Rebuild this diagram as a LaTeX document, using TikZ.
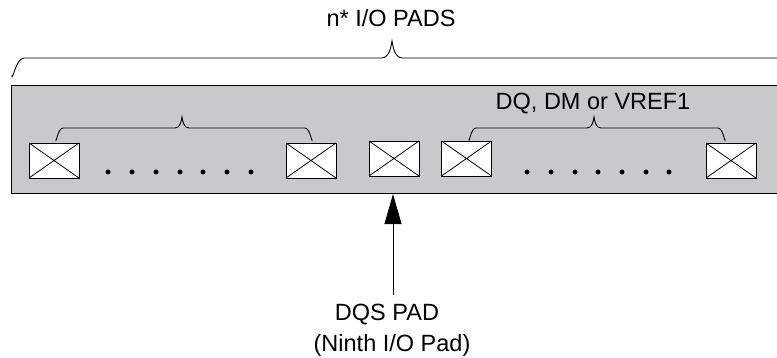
\documentclass[tikz,border=0pt]{standalone}
\usepackage{fontspec}
\setmainfont{Liberation Sans}
\usetikzlibrary{arrows.meta}
\definecolor{chipgray}{RGB}{200,201,203}
\begin{document}
\begin{tikzpicture}[x=1pt,y=-1pt,
  padbox/.style={draw=black, fill=white, line width=0.9pt, minimum width=50pt, minimum height=35pt, inner sep=0pt,
    path picture={\draw[line width=0.8pt] (path picture bounding box.south west) -- (path picture bounding box.north east)
      (path picture bounding box.north west) -- (path picture bounding box.south east);}},
  lbl/.style={font=\fontsize{23.5}{26}\selectfont, inner sep=0pt, anchor=base},
  brace/.style={draw=black, line width=0.9pt},
  dotmark/.style={circle, fill=black, inner sep=0pt, minimum size=5pt}]
\useasboundingbox (0,0) rectangle (777,358);
% chip body
\node[draw=black, fill=chipgray, line width=1.1pt, anchor=north west, minimum width=790pt, minimum height=108pt, inner sep=0pt] (chip) at (11,85) {};
% top brace
\draw[brace] (12,75) to[out=-90,in=180] (24,58) -- (381,58) to[out=0,in=-100] (392,41) to[out=-80,in=180] (403,58) -- (790,58);
\node[lbl] (title) at (391,27) {n* I/O PADS};
% pads
\node[padbox] (p1) at (54,160.5) {};
\node[padbox] (p2) at (311,160.5) {};
\node[padbox] (p3) at (394,158.5) {};
\node[padbox] (p4) at (466.5,158.5) {};
\node[padbox] (p5) at (731,160.5) {};
% dots
\foreach \x [count=\i] in {108,132,156,180,203,227,251}{\node[dotmark] (dl\i) at (\x,172) {};}
\foreach \x [count=\i] in {527,551,575,598,622,646,669}{\node[dotmark] (dr\i) at (\x,172) {};}
% small braces
\draw[brace] (56,139) to[out=-90,in=180] (63,128) -- (175,128) to[out=0,in=-100] (182,117) to[out=-80,in=180] (189,128) -- (305,128) to[out=0,in=-90] (312,139);
\draw[brace] (469,139) to[out=-90,in=180] (476,128) -- (587,128) to[out=0,in=-100] (594,117) to[out=-80,in=180] (601,128) -- (718,128) to[out=0,in=-90] (725,139);
\node[lbl] (dq) at (593,110) {DQ, DM or VREF1};
% DQS label and arrow
\node[lbl] (dqs) at (387,320) {DQS PAD};
\node[lbl] (ninth) at (392,351) {(Ninth I/O Pad)};
\coordinate (tail) at (393,295);
\draw[line width=0.9pt, -{Triangle[length=30pt,width=17pt]}] (tail) -- (tail |- chip.south);
\end{tikzpicture}
\end{document}
